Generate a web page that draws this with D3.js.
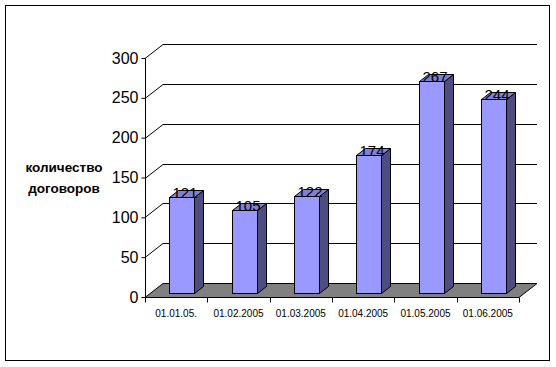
<!DOCTYPE html>
<html>
<head>
<meta charset="utf-8">
<script src="https://cdn.jsdelivr.net/npm/d3@7"></script>
<style>
  body { margin: 0; background: #fff; }
  text { font-family: Arial, "Liberation Sans", sans-serif; }
</style>
</head>
<body>
<div id="chart"></div>
<script>
// data
const categories = ["01.01.05.", "01.02.2005", "01.03.2005", "01.04.2005", "01.05.2005", "01.06.2005"];
const values = [121, 105, 122, 174, 267, 244];
const yTicks = [0, 50, 100, 150, 200, 250, 300];
const yTitle = ["количество", "договоров"];

const width = 556, height = 367;
const plot = {left: 145, right: 519, top: 58, bottom: 297};
const depth = {dx: 18, dy: -14};  // 3d offset of back wall

const svg = d3.select("#chart")
  .append("svg")
    .attr("width", width)
    .attr("height", height);

// outer frame
svg.append("rect")
  .attr("x", 5.5).attr("y", 5.5)
  .attr("width", 544).attr("height", 355)
  .attr("fill", "#fff")
  .attr("stroke", "#000");

const x = d3.scaleBand()
  .domain(categories)
  .range([plot.left, plot.right]);

const y = d3.scaleLinear()
  .domain([0, 300])
  .range([plot.bottom, plot.top]);

// back wall gridlines + diagonals on side wall
const grid = svg.append("g").attr("stroke", "#000").attr("fill", "none");
grid.selectAll(".back")
  .data(yTicks.filter(d => d > 0))
  .enter().append("path")
    .attr("d", d => {
      const yy = Math.round(y(d)) + 0.5;
      return "M" + plot.left + "," + yy +
        " L" + (plot.left + depth.dx) + "," + (yy + depth.dy) +
        " L" + (plot.right + depth.dx) + "," + (yy + depth.dy);
    });

// floor
const fy = plot.bottom + 0.5;
svg.append("path")
  .attr("d", "M" + plot.left + "," + fy +
    " L" + (plot.left + depth.dx) + "," + (fy + depth.dy) +
    " L" + (plot.right + depth.dx) + "," + (fy + depth.dy) +
    " L" + plot.right + "," + fy + " Z")
  .attr("fill", "#808080")
  .attr("stroke", "#000");

// bars (front face sits a quarter into the depth, back at three quarters)
const barW = 25;
const f0 = 0.25, f1 = 0.75;
const bars = svg.append("g").attr("stroke", "#000").attr("stroke-width", 1);

values.forEach((v, i) => {
  const cx = x(categories[i]) + x.bandwidth() / 2 + 1;
  const x0 = Math.round(cx - barW / 2 + depth.dx * f0) + 0.5, x1 = x0 + barW;
  const yb = y(0) + depth.dy * f0, yt = Math.round(y(v) + depth.dy * f0) + 0.5;
  const ddx = depth.dx * (f1 - f0), ddy = depth.dy * (f1 - f0);

  // side
  bars.append("path")
    .attr("d", `M${x1},${yb} L${x1 + ddx},${yb + ddy} L${x1 + ddx},${yt + ddy} L${x1},${yt} Z`)
    .attr("fill", "#4d4d80");
  // top
  bars.append("path")
    .attr("d", `M${x0},${yt} L${x0 + ddx},${yt + ddy} L${x1 + ddx},${yt + ddy} L${x1},${yt} Z`)
    .attr("fill", "#8080d6");
  // front
  bars.append("rect")
    .attr("x", x0).attr("y", yt)
    .attr("width", barW).attr("height", yb - yt)
    .attr("fill", "#9999ff");

  svg.append("text")
    .attr("x", x0 + barW / 2 + 3)
    .attr("y", yt)
    .attr("text-anchor", "middle")
    .attr("font-size", 15)
    .attr("fill", "#000")
    .text(v);
});

// value axis
const yAxis = svg.append("g")
  .attr("transform", "translate(" + (plot.left + 0.5) + ",0)")
  .call(d3.axisLeft(y).tickValues(yTicks).tickSize(4).tickPadding(3));
yAxis.select(".domain").attr("d", "M0," + y(300) + "V" + (y(0) + 0.5));
yAxis.selectAll("text")
  .attr("font-size", 16)
  .attr("font-family", "Arial, 'Liberation Sans', sans-serif")
  .attr("fill", "#000");

// category axis
const xAxis = svg.append("g")
  .attr("transform", "translate(0," + (plot.bottom + 0.5) + ")");
xAxis.append("line")
  .attr("x1", plot.left).attr("x2", plot.right)
  .attr("stroke", "#000");
xAxis.selectAll(".tick")
  .data(categories.map((c, i) => x(c)).concat([plot.right]))
  .enter().append("line")
    .attr("x1", d => Math.round(d) + 0.5).attr("x2", d => Math.round(d) + 0.5)
    .attr("y1", 0).attr("y2", 5)
    .attr("stroke", "#000");
xAxis.selectAll(".lbl")
  .data(categories)
  .enter().append("text")
    .attr("x", d => x(d) + x.bandwidth() / 2)
    .attr("y", 19)
    .attr("text-anchor", "middle")
    .attr("font-size", 10)
    .text(d => d);

// axis title
svg.append("text")
  .attr("x", 64)
  .attr("y", 172)
  .attr("text-anchor", "middle")
  .attr("font-size", 13.5)
  .attr("font-weight", "bold")
  .selectAll("tspan")
  .data(yTitle)
  .enter().append("tspan")
    .attr("x", 64)
    .attr("dy", (d, i) => i ? 21 : 0)
    .text(d => d);
</script>
</body>
</html>
